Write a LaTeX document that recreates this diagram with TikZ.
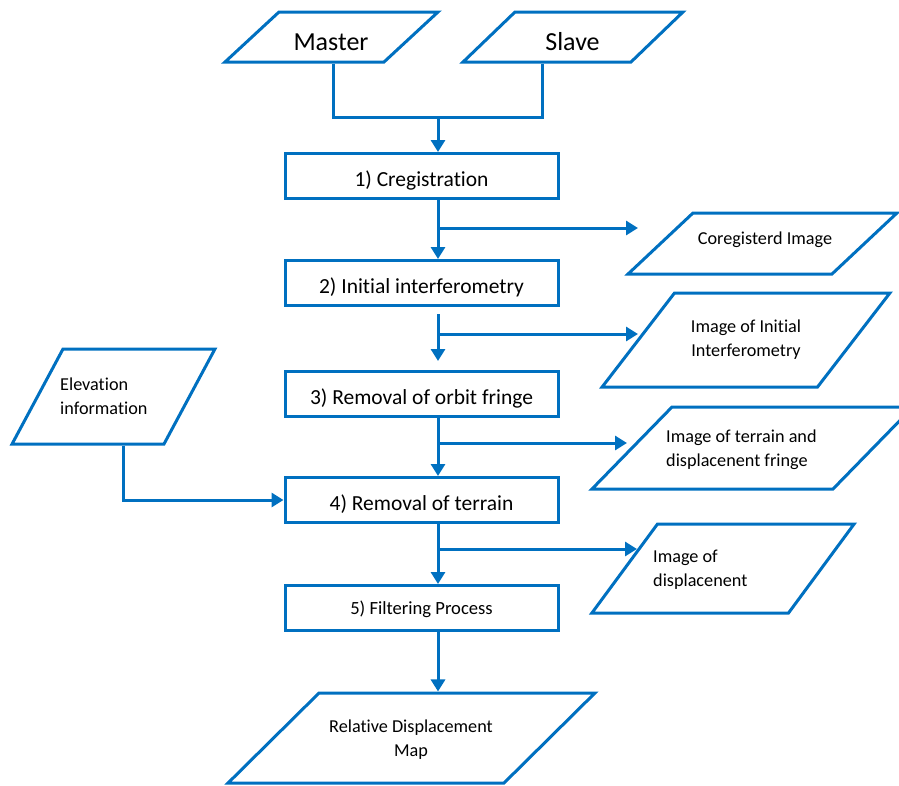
\documentclass[tikz,border=0pt]{standalone}
\usepackage{fontspec}
\setmainfont{Carlito}[Ligatures=NoCommon]
\usetikzlibrary{shapes.geometric,arrows.meta}
\definecolor{flowblue}{RGB}{0,112,192}

\tikzset{
  proc/.style={draw=flowblue, line width=3pt, minimum width=273pt, minimum height=45pt,
    inner sep=0pt, text height=21pt, text depth=0pt, font=\fontsize{21.5}{25}\selectfont},
  data/.style={draw=flowblue, line width=3pt, trapezium, inner sep=0pt, text depth=0pt},
  dtext/.style={inner sep=0pt, align=left, font=\fontsize{18.2}{24}\selectfont},
  big/.style={inner sep=0pt, font=\fontsize{26}{30}\selectfont},
  flow/.style={draw=flowblue, line width=3pt, -{Triangle[length=12pt,width=14pt]}},
  link/.style={draw=flowblue, line width=3pt},
}

\begin{document}
\begin{tikzpicture}[x=1pt,y=-1pt]
\useasboundingbox (0,0) rectangle (899,785);

% inputs
\node[data, trapezium left angle=42.8, trapezium right angle=137.2, text width=105pt, text height=50pt] (master) at (331.5,37) {};
\node[big] (master-t) at (331,42) {Master};
\node[data, trapezium left angle=43.9, trapezium right angle=136.1, text width=116pt, text height=50pt] (slave) at (573,37) {};
\node[big] (slave-t) at (572.5,42) {Slave};
\node[data, trapezium left angle=61.8, trapezium right angle=118.2, text width=101pt, text height=95pt] (elev) at (113.5,396.5) {};
\node[dtext, anchor=west] (elev-t) at (60,396) {Elevation\\information};

% processing steps
\node[proc] (box1) at (421.5,176) {1) Cregistration};
\node[proc] (box2) at (421.5,283) {2) Initial interferometry};
\node[proc] (box3) at (421.5,394) {3) Removal of orbit fringe};
\node[proc] (box4) at (421.5,500) {4) Removal of terrain};
\node[proc, font=\fontsize{18.6}{22}\selectfont, text height=12pt] (box5) at (421.5,608) {5) Filtering Process};

% outputs
\node[data, trapezium left angle=43.2, trapezium right angle=136.8, text width=139pt, text height=61pt] (coreg) at (762.5,243.5) {};
\node[dtext] (coreg-t) at (765,240) {Coregisterd Image};
\node[data, trapezium left angle=52.4, trapezium right angle=127.6, text width=143pt, text height=94pt] (init) at (746,340) {};
\node[dtext, align=center] (init-t) at (746,340) {Image of Initial\\Interferometry};
\node[data, trapezium left angle=45.7, trapezium right angle=134.3, text width=161pt, text height=82pt] (terr) at (752.5,448) {};
\node[dtext, anchor=west] (terr-t) at (666,450) {Image of terrain and\\displacenent fringe};
\node[data, trapezium left angle=53.6, trapezium right angle=126.4, text width=131pt, text height=89pt] (disp) at (723,568.5) {};
\node[dtext, anchor=west] (disp-t) at (653,569.5) {Image of\\displacenent};
\node[data, trapezium left angle=44.7, trapezium right angle=135.3, text width=185pt, text height=90pt] (rel) at (411.5,738) {};
\node[dtext, align=center] (rel-t) at (411,740) {Relative Displacement\\Map};

% main line
\coordinate (spine) at (438,0);
\coordinate (join) at (438,117);
\draw[link] ([xshift=1.5pt]master.south) |- (join);
\draw[link] ([xshift=-31pt]slave.south) |- (join);
\draw[flow] (join) -- (join |- box1.north);
\draw[flow] (box1.south -| spine) -- (box2.north -| spine);
\draw[flow, shorten <=7pt, shorten >=9pt] (box2.south -| spine) -- (box3.north -| spine);
\draw[flow] (box3.south -| spine) -- (box4.north -| spine);
\draw[flow] (box4.south -| spine) -- (box5.north -| spine);
\draw[flow] (box5.south -| spine) -- (rel.north -| spine);

% side outputs
\coordinate (b1) at (438,228); \coordinate (t1) at (638,228);
\coordinate (b2) at (438,334); \coordinate (t2) at (638,334);
\coordinate (b3) at (438,443); \coordinate (t3) at (627,443);
\coordinate (b4) at (438,549); \coordinate (t4) at (637,549);
\draw[flow] (b1) -- (t1);
\draw[flow] (b2) -- (t2);
\draw[flow] (b3) -- (t3);
\draw[flow] (b4) -- (t4);

\draw[flow] ([xshift=9.5pt]elev.south) |- (box4.west);
\end{tikzpicture}
\end{document}
